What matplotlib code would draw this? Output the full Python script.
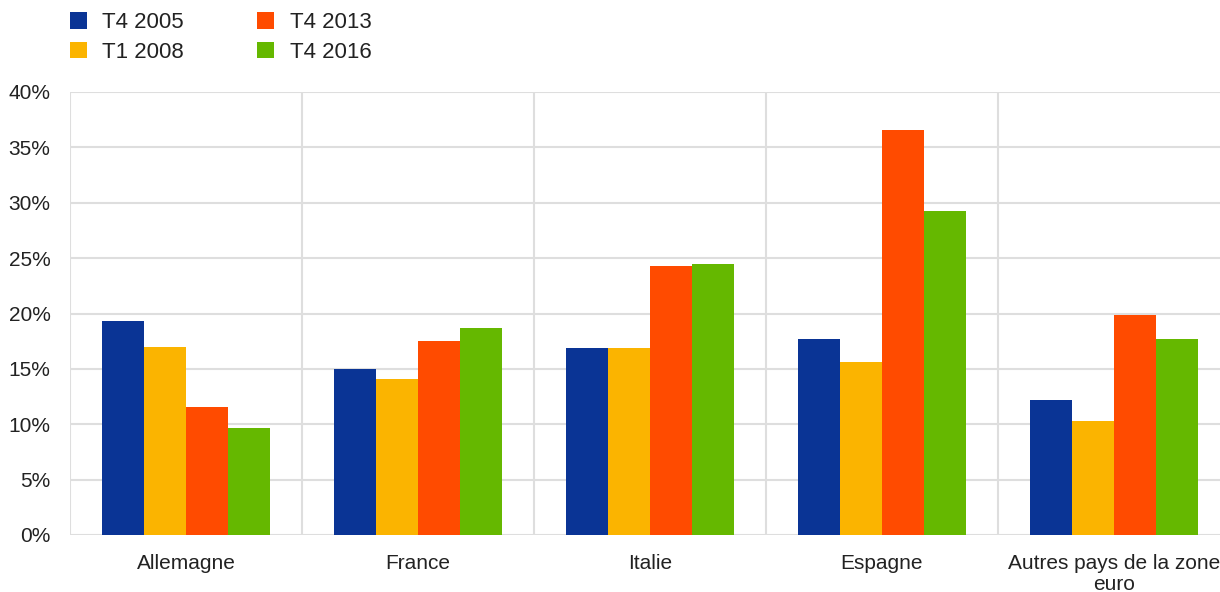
import matplotlib
matplotlib.use("Agg")
import matplotlib.pyplot as plt
import numpy as np
from matplotlib.patches import Patch

plt.rcParams['font.family'] = ['Liberation Sans', 'DejaVu Sans']

categories = ["Allemagne", "France", "Italie", "Espagne", "Autres pays de la zone\neuro"]
series_names = ["T4 2005", "T1 2008", "T4 2013", "T4 2016"]
t4_2005 = [19.3, 15.0, 16.9, 17.7, 12.2]
t1_2008 = [17.0, 14.1, 16.9, 15.6, 10.3]
t4_2013 = [11.6, 17.5, 24.3, 36.6, 19.9]
t4_2016 = [9.7, 18.7, 24.5, 29.3, 17.7]
yticks = [0, 5, 10, 15, 20, 25, 30, 35, 40]
ytick_labels = ["0%", "5%", "10%", "15%", "20%", "25%", "30%", "35%", "40%"]

colors = ["#0A3495", "#FBB400", "#FF4B00", "#65B800"]
series = [t4_2005, t1_2008, t4_2013, t4_2016]

fig = plt.figure(figsize=(12.2, 5.92), dpi=100)
ax = fig.add_axes([70/1220, 57/592, 1160/1220, 443/592])

n = len(categories)
x = np.arange(n)
bw = 0.181
for i, (vals, c) in enumerate(zip(series, colors)):
    ax.bar(x + (i - 1.5) * bw, vals, width=bw, color=c, zorder=3, linewidth=0)

ax.set_xlim(-0.5, n - 0.5)
ax.set_ylim(0, 40)
ax.set_yticks(yticks)
ax.set_yticklabels(ytick_labels)
ax.set_xticks(x)
ax.set_xticklabels(categories, linespacing=1.1)
for sp in ax.spines.values():
    sp.set_visible(False)
ax.tick_params(axis='both', length=0, labelsize=15, colors='#222222')
ax.tick_params(axis='y', pad=14)
ax.tick_params(axis='x', pad=14)

gc = '#dedede'
for yv in yticks:
    ax.axhline(yv, color=gc, lw=1.5, zorder=1)
for xv in np.arange(-0.5, n, 1.0):
    ax.axvline(xv, color=gc, lw=1.5, zorder=1)

handles = [Patch(facecolor=c, edgecolor='none') for c in colors]
fig.legend(handles, series_names, loc='upper left', bbox_to_anchor=(70/1220, 1 - 12/592),
           ncol=2, frameon=False, fontsize=16, handlelength=0.77, handleheight=0.77,
           handletextpad=0.68, columnspacing=3.3, labelspacing=0.4, borderpad=0,
           borderaxespad=0, labelcolor='#222222')

fig.savefig("out.png", dpi=100)
